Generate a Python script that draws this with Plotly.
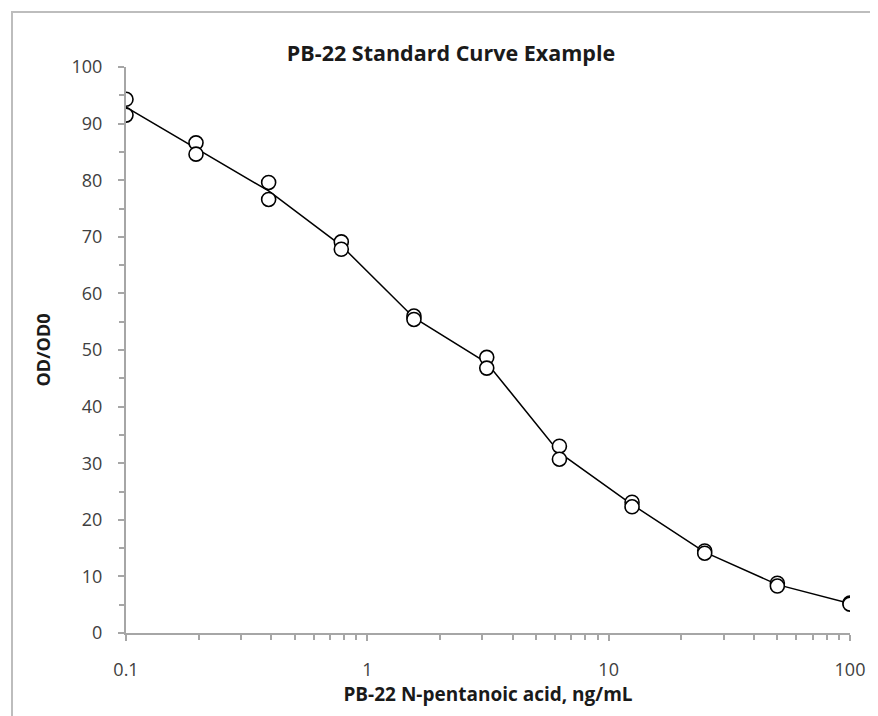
import plotly.graph_objects as go

# Data
conc = [0.1, 0.195, 0.39, 0.78, 1.56, 3.125, 6.25, 12.5, 25, 50, 100]
rep1 = [94.3, 86.6, 79.6, 69.1, 56.0, 48.7, 33.0, 23.1, 14.5, 8.8, 5.3]
rep2 = [91.5, 84.6, 76.6, 67.8, 55.4, 46.8, 30.7, 22.3, 14.1, 8.3, 5.1]
mean_curve = [(a + b) / 2 for a, b in zip(rep1, rep2)]

x_ticks = [0.1, 1, 10, 100]
x_ticklabels = ["0.1", "1", "10", "100"]
x_minor = [m * d for d in (0.1, 1, 10) for m in range(2, 10)]
y_ticks = list(range(0, 101, 10))

FONT = "Open Sans"
AX = "#a6a6a6"
TXT = "#404040"

fig = go.Figure()
fig.add_trace(go.Scatter(x=conc, y=mean_curve, mode="lines",
                         line=dict(color="black", width=1.5), hoverinfo="skip",
                         showlegend=False))
fig.add_trace(go.Scatter(x=conc + conc, y=rep1 + rep2, mode="markers",
                         marker=dict(symbol="circle", size=14, color="white",
                                     line=dict(color="black", width=1.6)),
                         showlegend=False))

# page body has an 8px default offset; compensate in margins
OFF = 8
W, H = 878, 716
L, T = 126 - OFF, 67 - OFF
pw, ph = 724, 566
R, B = W - L - pw, H - T - ph

def px_to_paper_x(px):
    return (px - OFF - L) / pw

def py_to_paper_y(py):
    return (T + ph - (py - OFF)) / ph

fig.add_shape(type="rect", xref="paper", yref="paper",
              x0=px_to_paper_x(12), x1=px_to_paper_x(920),
              y0=py_to_paper_y(760), y1=py_to_paper_y(12),
              line=dict(color="#bdbdbd", width=2), fillcolor="rgba(0,0,0,0)",
              layer="below")

fig.update_layout(
    width=W, height=H,
    margin=dict(l=L, r=R, t=T, b=B, autoexpand=False),
    paper_bgcolor="white", plot_bgcolor="white",
    title=dict(text="<b>PB-22 Standard Curve Example</b>", x=(451 - OFF) / W, xref="container",
               xanchor="center", y=1 - (53 - OFF) / H, yref="container", yanchor="middle",
               font=dict(family=FONT, size=21.5, color="#1a1a1a")),
    xaxis=dict(type="log", range=[-1, 2], tickvals=x_ticks, ticktext=x_ticklabels,
               showgrid=False, zeroline=False, showline=True, linecolor=AX, linewidth=2,
               ticks="outside", ticklen=6, tickcolor=AX, tickwidth=1.5,
               ticklabelstandoff=13,
               tickfont=dict(family=FONT, size=18, color=TXT),
               minor=dict(tickvals=x_minor, ticks="outside", ticklen=5, tickcolor=AX,
                          tickwidth=1.5, showgrid=False),
               title=dict(text="<b>PB-22 N-pentanoic acid, ng/mL</b>", standoff=5,
                          font=dict(family=FONT, size=19, color="#1a1a1a"))),
    yaxis=dict(range=[0, 100], tickvals=y_ticks, showgrid=False, zeroline=False,
               showline=True, linecolor=AX, linewidth=2,
               ticks="outside", ticklen=6, tickcolor=AX, tickwidth=1.5,
               ticklabelstandoff=12,
               tickfont=dict(family=FONT, size=18, color=TXT),
               minor=dict(dtick=5, ticks="outside", ticklen=5, tickcolor=AX,
                          tickwidth=1.5, showgrid=False),
               title=dict(text="<b>OD/OD0</b>", standoff=16,
                          font=dict(family=FONT, size=18, color="#1a1a1a"))),
)

fig.write_html("out.html")
